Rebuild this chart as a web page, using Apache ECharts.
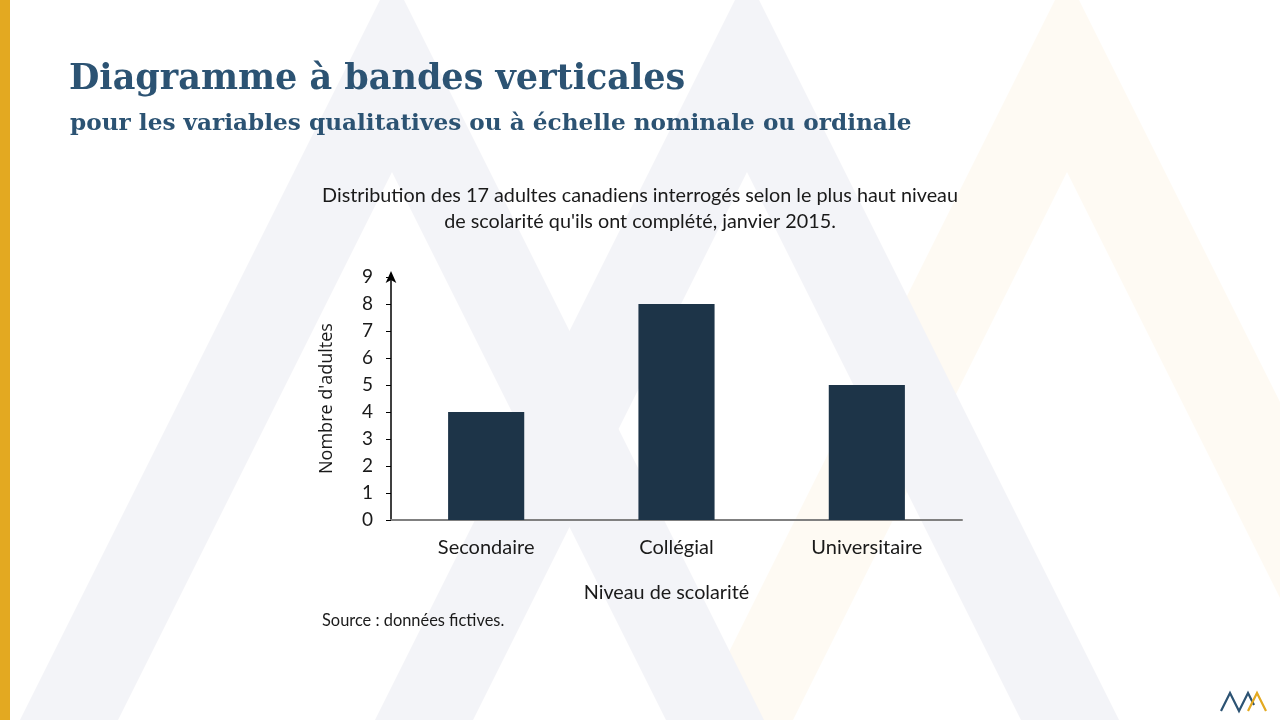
<!DOCTYPE html>
<html>
<head>
<meta charset="utf-8">
<script src="https://cdn.jsdelivr.net/npm/echarts@6/dist/echarts.min.js"></script>
<style>
html,body{margin:0;padding:0;background:#fff;}
#c{width:1280px;height:720px;}
</style>
</head>
<body>
<div id="c"></div>
<script>
const categories = ['Secondaire', 'Collégial', 'Universitaire'];
const values = [4, 8, 5];
const yTicks = [0, 1, 2, 3, 4, 5, 6, 7, 8, 9];
const mainTitle = 'Diagramme à bandes verticales';
const subTitle = 'pour les variables qualitatives ou à échelle nominale ou ordinale';
const chartTitle = 'Distribution des 17 adultes canadiens interrogés selon le plus haut niveau\nde scolarité qu\'ils ont complété, janvier 2015.';
const xName = 'Niveau de scolarité';
const yName = "Nombre d'adultes";
const sourceText = 'Source : données fictives.';

function lambda(a, color) {
  return {
    type: 'polygon', silent: true, z: -10,
    shape: { points: [[a, -24], [a + 372, 720], [a + 274, 720], [a, 172], [a - 274, 720], [a - 372, 720]] },
    style: { fill: color }
  };
}

const chart = echarts.init(document.getElementById('c'));
chart.setOption({
  backgroundColor: '#ffffff',
  animation: false,
  graphic: [
    lambda(1067, '#fefaf3'),
    lambda(392, '#f3f4f8'),
    lambda(747, '#f3f4f8'),
    { type: 'rect', silent: true, z: 5, shape: { x: 0, y: 0, width: 10, height: 720 }, style: { fill: '#e3a921' } },
    { type: 'text', left: 322, top: 613, style: { text: sourceText, font: '16.4px Lato', fill: '#1a1a1a' } },
    { type: 'polyline', silent: true, shape: { points: [[1221, 711], [1230, 693], [1239, 711], [1248, 693], [1254, 705]] }, style: { stroke: '#2c5373', lineWidth: 2.2, fill: null } },
    { type: 'polyline', silent: true, shape: { points: [[1248, 711], [1257, 693], [1266, 711]] }, style: { stroke: '#e3a921', lineWidth: 2.2, fill: null } }
  ],
  title: [
    { text: mainTitle, left: 64, top: 57, textStyle: { fontFamily: 'DejaVu Serif', fontWeight: 'bold', fontSize: 35, color: '#2c5373' } },
    { text: subTitle, left: 65, top: 107, textStyle: { fontFamily: 'DejaVu Serif', fontWeight: 'bold', fontSize: 23.2, color: '#2c5373' } },
    { text: chartTitle, left: 635, textAlign: 'center', top: 177, textStyle: { fontFamily: 'Lato', fontWeight: 'normal', fontSize: 19.8, lineHeight: 26.5, color: '#1a1a1a' } }
  ],
  grid: { left: 391, right: 318, top: 277, bottom: 200, containLabel: false },
  xAxis: {
    type: 'category', data: categories,
    axisLine: { lineStyle: { color: '#808080', width: 2 } },
    axisTick: { show: false },
    axisLabel: { fontFamily: 'Lato', fontSize: 20, color: '#1a1a1a', margin: 18 },
    name: xName, nameLocation: 'middle', nameGap: 63,
    nameTextStyle: { fontFamily: 'Lato', fontSize: 19.8, color: '#1a1a1a', padding: [0, 20, 0, 0] }
  },
  yAxis: {
    type: 'value', min: 0, max: 9, interval: 1,
    splitLine: { show: false },
    axisLine: { show: true, lineStyle: { color: '#000', width: 1.5 }, symbol: ['none', 'arrow'], symbolSize: [8, 12], symbolOffset: [0, 6] },
    axisTick: { show: true, length: 5, lineStyle: { color: '#000', width: 1 } },
    axisLabel: { fontFamily: 'Lato', fontSize: 19, color: '#1a1a1a', margin: 18, formatter: v => yTicks.includes(v) ? String(v) : '' },
    name: yName, nameLocation: 'middle', nameGap: 55, nameRotate: 90,
    nameTextStyle: { fontFamily: 'Open Sans', fontSize: 18, color: '#1a1a1a' }
  },
  series: [{
    type: 'bar', data: values, barWidth: '40%',
    itemStyle: { color: '#1d3448' }
  }]
});
</script>
</body>
</html>
